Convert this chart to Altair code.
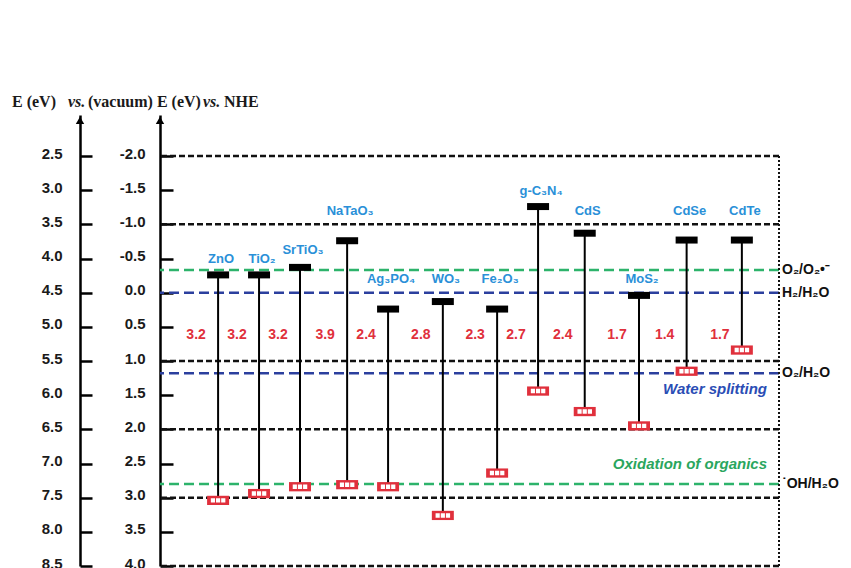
import altair as alt
import pandas as pd

# Band edges of common photocatalysts, eV vs. NHE
materials = ["ZnO", "TiO₂", "SrTiO₃", "NaTaO₃", "Ag₃PO₄", "WO₃", "Fe₂O₃",
             "g-C₃N₄", "CdS", "MoS₂", "CdSe", "CdTe"]
column = [1.0, 1.86, 2.72, 3.71, 4.57, 5.72, 6.86, 7.72, 8.70, 9.84, 10.84, 12.0]
cb_edge = [-0.26, -0.26, -0.37, -0.76, 0.24, 0.13, 0.24, -1.26, -0.87, 0.04, -0.77, -0.77]
vb_edge = [3.04, 2.94, 2.84, 2.81, 2.84, 3.26, 2.64, 1.44, 1.74, 1.95, 1.15, 0.84]
band_gap = ["3.2", "3.2", "3.2", "3.9", "2.4", "2.8", "2.3", "2.7", "2.4", "1.7", "1.4", "1.7"]
name_level = [-0.50, -0.50, -0.62, -1.20, -0.20, -0.20, -0.20, -1.49, -1.20, -0.20, -1.20, -1.20]
gap_level = 0.62

# Redox potentials (eV vs. NHE)
redox_names = ["O₂/O₂•⁻", "H₂/H₂O", "O₂/H₂O", "˙OH/H₂O"]
redox_levels = [-0.33, 0.0, 1.18, 2.80]
redox_colors = ["#2db36b", "#2b3f9e", "#2b3f9e", "#2db36b"]

region_names = ["Water splitting", "Oxidation of organics"]
region_levels = [1.41, 2.51]
region_colors = ["#2a4db5", "#2aa65e"]

grid_levels = [-2.0, -1.0, 1.0, 2.0, 3.0, 4.0]
nhe_ticks = [-2.0, -1.5, -1.0, -0.5, 0.0, 0.5, 1.0, 1.5, 2.0, 2.5, 3.0, 3.5, 4.0]
VACUUM_SHIFT = 4.5  # E(vacuum) = E(NHE) + 4.5

bands = pd.DataFrame({
    "material": materials, "column": column, "cb": cb_edge, "vb": vb_edge,
    "gap": band_gap, "name_level": name_level, "gap_level": gap_level,
})
redox = pd.DataFrame({"name": redox_names, "level": redox_levels})
regions = pd.DataFrame({"name": region_names, "level": region_levels})
grid = pd.DataFrame({"level": grid_levels})
frame = pd.DataFrame({"top": [nhe_ticks[0]], "bottom": [nhe_ticks[-1]]})
arrow = pd.DataFrame({"level": [-2.52]})

SANS = "Liberation Sans"
SERIF = "Liberation Serif"

yscale = alt.Scale(domain=[-2.6, 4.0], reverse=True, nice=False, zero=False)
xscale = alt.Scale(domain=[-0.22, 12.78], nice=False, zero=False)

label_style = dict(labelFont=SANS, labelFontSize=15, labelFontWeight="bold",
                   labelColor="#1a1a1a", labelOffset=-3, title=None, grid=False,
                   orient="left")

# plain hyphen-minus for negative tick labels
nhe_axis = alt.Axis(values=nhe_ticks, ticks=False, tickSize=0,
                    labelExpr="replace(format(datum.value, '.1f'), '\u2212', '-')",
                    labelPadding=15, domain=True, domainColor="black",
                    domainWidth=2.5, **label_style)
nhe_tick_axis = alt.Axis(values=nhe_ticks, offset=-13, ticks=True, tickSize=13,
                         tickWidth=2.5, tickColor="black", domain=False,
                         labels=False, title=None, grid=False, orient="left")
vac_axis = alt.Axis(values=nhe_ticks, offset=80, ticks=False, tickSize=0,
                    labelExpr=f"format(datum.value + {VACUUM_SHIFT}, '.1f')",
                    labelPadding=18, domain=True, domainColor="black",
                    domainWidth=2.5, **label_style)
vac_tick_axis = alt.Axis(values=nhe_ticks, offset=68, ticks=True, tickSize=12,
                         tickWidth=2.5, tickColor="black", domain=False,
                         labels=False, title=None, grid=False, orient="left")

# horizontal reference lines every 1 eV
grid_lines = alt.Chart(grid).mark_rule(
    color="#111111", strokeWidth=2.5, strokeDash=[6, 3]
).encode(y=alt.Y("level:Q", scale=yscale, axis=nhe_axis))

redox_lines = alt.Chart(redox).mark_rule(strokeWidth=2.5, strokeDash=[10, 5]).encode(
    y=alt.Y("level:Q", scale=yscale, axis=nhe_tick_axis),
    color=alt.Color("name:N", scale=alt.Scale(domain=redox_names, range=redox_colors),
                    legend=None),
)

right_border = alt.Chart(frame).mark_rule(
    color="#111111", strokeWidth=2, strokeDash=[2, 2]
).encode(
    x=alt.value("width"),
    y=alt.Y("top:Q", scale=yscale, axis=vac_axis),
    y2="bottom:Q",
)

band_lines = alt.Chart(bands).mark_rule(color="black", strokeWidth=2).encode(
    x=alt.X("column:Q", scale=xscale, axis=None),
    y=alt.Y("cb:Q", scale=yscale, axis=vac_tick_axis),
    y2="vb:Q",
)

cb_bars = alt.Chart(bands).mark_tick(
    orient="horizontal", size=22, thickness=7, color="black", opacity=1
).encode(
    x=alt.X("column:Q", scale=xscale, axis=None),
    y=alt.Y("cb:Q", scale=yscale, axis=None),
)

BOX = "M-1,-0.42H1V0.42H-1Z"
CELLS = ("M-0.66,-0.2H-0.28V0.2H-0.66Z M-0.19,-0.2H0.19V0.2H-0.19Z "
         "M0.28,-0.2H0.66V0.2H0.28Z")

vb_boxes = alt.Chart(bands).mark_point(
    shape=BOX, filled=True, size=484, color="#e0303c", opacity=1, strokeWidth=0
).encode(
    x=alt.X("column:Q", scale=xscale, axis=None),
    y=alt.Y("vb:Q", scale=yscale, axis=None),
)
vb_cells = alt.Chart(bands).mark_point(
    shape=CELLS, filled=True, size=484, color="white", opacity=1, strokeWidth=0
).encode(
    x=alt.X("column:Q", scale=xscale, axis=None),
    y=alt.Y("vb:Q", scale=yscale, axis=None),
)

names = alt.Chart(bands).mark_text(
    font=SANS, fontSize=13, fontWeight="bold", color="#2a90d8", dx=3
).encode(
    x=alt.X("column:Q", scale=xscale, axis=None),
    y=alt.Y("name_level:Q", scale=yscale, axis=None),
    text="material:N",
)

gaps = alt.Chart(bands).mark_text(
    font=SANS, fontSize=14, fontWeight="bold", color="#e0303c", dx=-22
).encode(
    x=alt.X("column:Q", scale=xscale, axis=None),
    y=alt.Y("gap_level:Q", scale=yscale, axis=None),
    text="gap:N",
)

redox_labels = alt.Chart(redox).mark_text(
    font=SANS, fontSize=14, fontWeight="bold", color="#111111", align="left", dx=3
).encode(
    x=alt.value("width"),
    y=alt.Y("level:Q", scale=yscale, axis=None),
    text="name:N",
)

region_labels = alt.Chart(regions).mark_text(
    font=SANS, fontSize=15, fontWeight="bold", fontStyle="italic",
    align="right", dx=-12
).encode(
    x=alt.value("width"),
    y=alt.Y("level:Q", scale=yscale, axis=None),
    text="name:N",
    color=alt.Color("name:N", scale=alt.Scale(domain=region_names, range=region_colors),
                    legend=None),
)

arrow_nhe = alt.Chart(arrow).mark_point(
    shape="triangle-up", filled=True, size=70, color="black", opacity=1
).encode(x=alt.value(0), y=alt.Y("level:Q", scale=yscale, axis=None))
arrow_vac = alt.Chart(arrow).mark_point(
    shape="triangle-up", filled=True, size=70, color="black", opacity=1
).encode(x=alt.value(-80), y=alt.Y("level:Q", scale=yscale, axis=None))


def heading(text, x, italic=False):
    return alt.Chart(arrow).mark_text(
        text=text, font=SERIF, fontSize=16, fontWeight="bold",
        fontStyle="italic" if italic else "normal",
        align="left", baseline="alphabetic", color="#1a1a1a",
    ).encode(x=alt.value(x), y=alt.value(-8))


title_parts = [
    heading("E (eV)", -148),
    heading("vs.", -92, italic=True),
    heading("(vacuum) E (eV)", -72),
    heading("vs.", 43, italic=True),
    heading("NHE", 64),
]

chart = alt.layer(
    grid_lines, redox_lines, right_border, band_lines, cb_bars, vb_boxes, vb_cells,
    names, gaps, redox_labels, region_labels, arrow_nhe, arrow_vac, *title_parts,
).resolve_axis(y="independent").resolve_scale(color="independent").properties(
    width=619, height=451,
    autosize=alt.AutoSizeParams(type="none"),
    padding={"left": 160, "top": 115, "right": 72, "bottom": 2},
    background="white",
).configure_view(strokeWidth=0)

chart.save("out.html", embed_options={"renderer": "svg", "actions": False})
